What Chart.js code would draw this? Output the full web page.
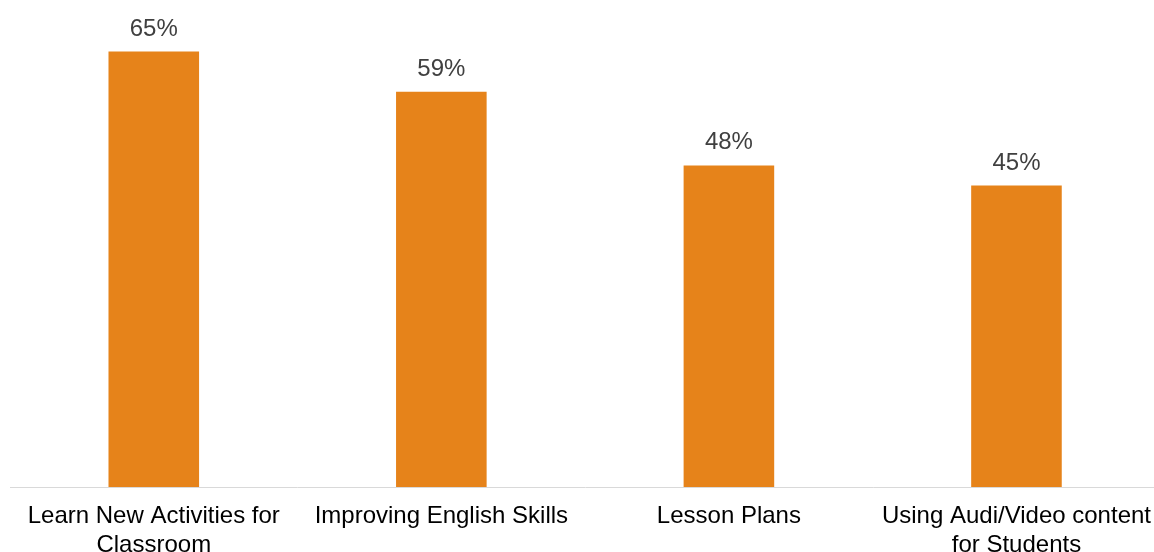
<!DOCTYPE html>
<html lang="en">
<head>
    <meta charset="UTF-8">
    <script src="https://cdn.jsdelivr.net/npm/chart.js"></script>
    <title>Training Interests</title>
    <style>
        html, body { margin: 0; padding: 0; background: #fff; }
        /* the axis runs a few pixels past the right edge, so the canvas is a bit wider and clipped */
        .wrap { width: 1154px; height: 552px; overflow: hidden; }
        canvas { display: block; }
    </style>
</head>
<body>
    <div class="wrap">
        <canvas id="chart" width="1166" height="552"></canvas>
    </div>

    <script>
        // categories (split over lines the way they wrap under the axis)
        const categories = [
            ['Learn New Activities for', 'Classroom'],
            'Improving English Skills',
            'Lesson Plans',
            ['Using Audi/Video content', 'for Students']
        ];
        // share of respondents, percent
        const shares = [65, 59, 48, 45];

        const fontFamily = '"Liberation Sans", Arial, sans-serif';

        // writes the percent value above each bar
        const valueLabels = {
            id: 'valueLabels',
            afterDatasetsDraw(chart) {
                const ctx = chart.ctx;
                const meta = chart.getDatasetMeta(0);
                ctx.save();
                ctx.font = '24px ' + fontFamily;
                ctx.fillStyle = '#404040';
                ctx.textAlign = 'center';
                ctx.textBaseline = 'alphabetic';
                meta.data.forEach((bar, i) => {
                    ctx.fillText(shares[i] + '%', bar.x, bar.y - 16);
                });
                ctx.restore();
            }
        };

        new Chart(document.getElementById('chart'), {
            type: 'bar',
            data: {
                labels: categories,
                datasets: [{
                    data: shares,
                    backgroundColor: '#E6831A',
                    borderWidth: 0,
                    barPercentage: 0.315,
                    categoryPercentage: 1
                }]
            },
            options: {
                responsive: false,
                animation: false,
                layout: { padding: { top: 18, left: 10, right: 0, bottom: 0 } },
                plugins: {
                    legend: { display: false },
                    tooltip: { enabled: false }
                },
                scales: {
                    y: {
                        display: false,
                        min: 0,
                        max: 70
                    },
                    x: {
                        grid: { display: false, drawTicks: false },
                        border: { display: true, color: '#d9d9d9', width: 1 },
                        ticks: {
                            color: '#000',
                            padding: 15,
                            maxRotation: 0,
                            autoSkip: false,
                            font: { family: fontFamily, size: 24, lineHeight: 1.2 }
                        },
                        afterFit(scale) { scale.height = 65; }
                    }
                }
            },
            plugins: [valueLabels]
        });
    </script>
</body>
</html>
